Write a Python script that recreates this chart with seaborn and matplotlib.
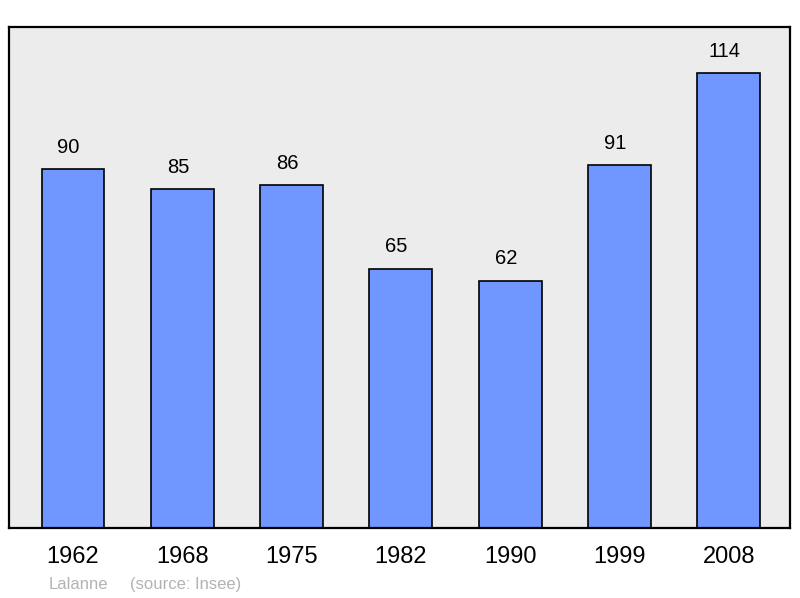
import matplotlib
matplotlib.use("Agg")
import matplotlib.pyplot as plt
import seaborn as sns
import pandas as pd

annees = ["1962", "1968", "1975", "1982", "1990", "1999", "2008"]
population = [90, 85, 86, 65, 62, 91, 114]

df = pd.DataFrame({"annee": annees, "pop": population})

sns.set_style("white")
plt.rcParams["font.family"] = ["Liberation Sans", "DejaVu Sans"]

fig = plt.figure(figsize=(8, 5.98), dpi=100)
ax = fig.add_axes([9 / 800, 70 / 598, 781 / 800, 501 / 598])
ax.set_facecolor("#ececec")

sns.barplot(data=df, x="annee", y="pop", color="#7097ff", saturation=1,
            width=0.575, edgecolor="black", linewidth=1.2, ax=ax)

for i, v in enumerate(population):
    ax.text(i - 0.04, v + 5.5, str(v), ha="center", va="center",
            fontsize=14.5, color="black")

ax.set_xlim(-0.585, 6.56)
ax.set_ylim(0, 125.6)
ax.set_yticks([])
ax.set_xlabel("")
ax.set_ylabel("")
ax.tick_params(axis="x", length=0, labelsize=17, pad=13, labelcolor="black")
for s in ax.spines.values():
    s.set_visible(True)
    s.set_color("black")
    s.set_linewidth(1.6)

fig.text(49 / 800, 1 - 589 / 598, "Lalanne", color="#b3b3b3", fontsize=12, va="baseline")
fig.text(130 / 800, 1 - 589 / 598, "(source: Insee)", color="#b3b3b3", fontsize=12, va="baseline")

fig.savefig("out.png", dpi=100)
